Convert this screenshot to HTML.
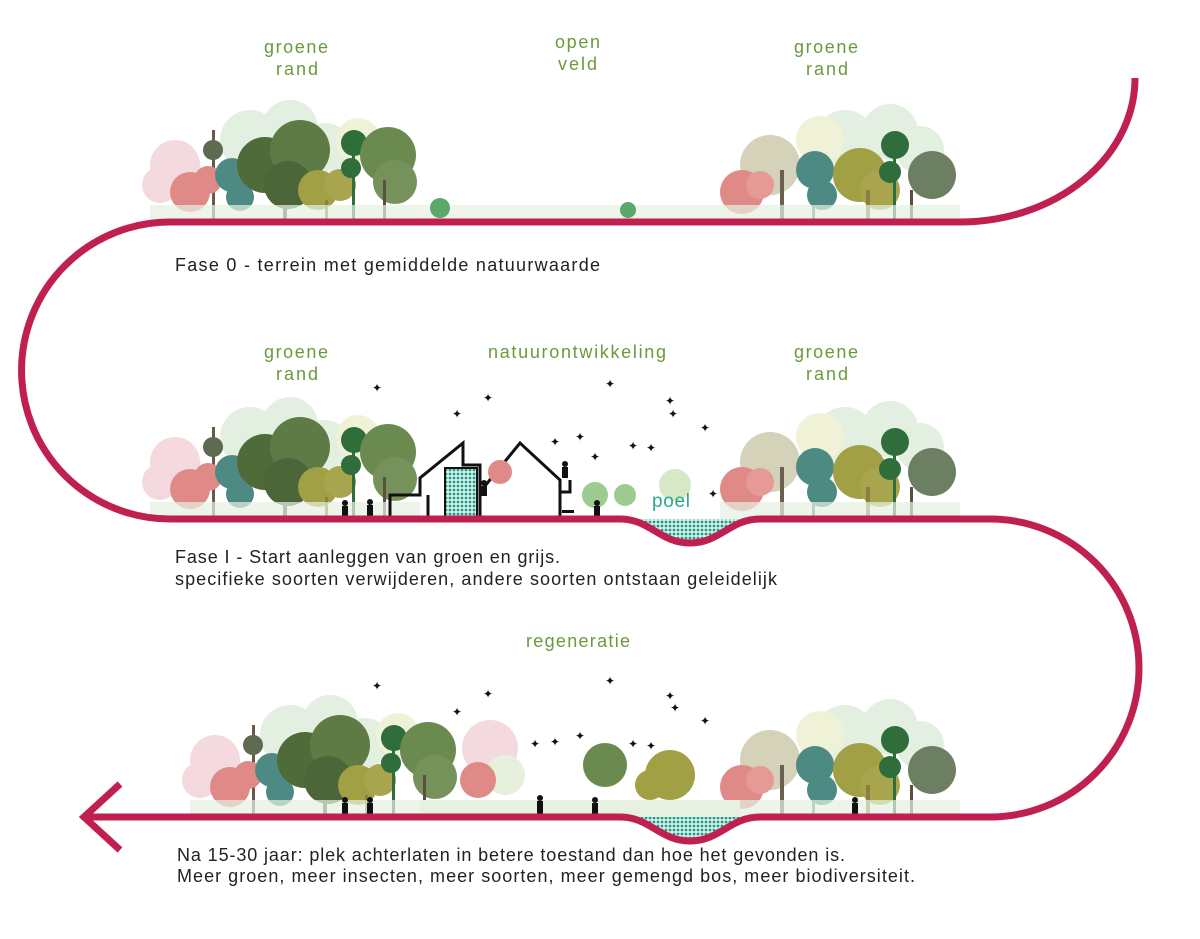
<!DOCTYPE html>
<html><head><meta charset="utf-8"><style>
html,body{margin:0;padding:0;background:#fff;}
svg{display:block;}
text{font-family:"Liberation Sans",sans-serif;}
.g{fill:#6a9a3e;font-size:18px;}
.b{fill:#222;font-size:18px;}
</style></head><body>
<svg width="1200" height="939" viewBox="0 0 1200 939" xmlns="http://www.w3.org/2000/svg">
<defs>
<g id="L">
 <circle cx="175" cy="165" r="25" fill="#f4d9de"/><circle cx="160" cy="185" r="18" fill="#f4d9de"/>
 <circle cx="250" cy="140" r="30" fill="#e3efe0"/><circle cx="290" cy="128" r="28" fill="#e3efe0"/><circle cx="325" cy="148" r="25" fill="#e3efe0"/>
 <circle cx="358" cy="140" r="22" fill="#f0f2d8"/>
 <rect x="212" y="130" width="3" height="92" fill="#6b5a4a"/><circle cx="213" cy="150" r="10" fill="#5e6b50"/>
 <circle cx="190" cy="192" r="20" fill="#e08a87"/><circle cx="208" cy="180" r="14" fill="#e08a87"/>
 <circle cx="232" cy="175" r="17" fill="#4e8a84"/><circle cx="240" cy="197" r="14" fill="#4e8a84"/>
 <rect x="283" y="170" width="4" height="52" fill="#5a5040"/>
 <circle cx="265" cy="165" r="28" fill="#4f6b3a"/><circle cx="300" cy="150" r="30" fill="#5e7a45"/><circle cx="288" cy="185" r="24" fill="#4c663a"/>
 <circle cx="318" cy="190" r="20" fill="#a1a045"/><circle cx="340" cy="185" r="16" fill="#a9a54e"/><rect x="325" y="200" width="3" height="22" fill="#8a8040"/>
 <rect x="352" y="150" width="3" height="72" fill="#2f6e3b"/>
 <circle cx="354" cy="143" r="13" fill="#2f6e3b"/><circle cx="351" cy="168" r="10" fill="#2f6e3b"/>
 <circle cx="388" cy="155" r="28" fill="#6b8a50"/><circle cx="395" cy="182" r="22" fill="#75925a"/><rect x="383" y="180" width="3" height="42" fill="#5a5040"/>
 <rect x="150" y="205" width="270" height="17" fill="#e6f1e2" opacity=".7"/>
</g>
<g id="R">
 <circle cx="845" cy="140" r="30" fill="#e3efe0"/><circle cx="890" cy="132" r="28" fill="#e3efe0"/><circle cx="920" cy="150" r="24" fill="#e3efe0"/>
 <circle cx="820" cy="140" r="24" fill="#f0f2d8"/>
 <circle cx="770" cy="165" r="30" fill="#c9c7a6" opacity=".8"/><rect x="780" y="170" width="4" height="52" fill="#6b6050"/>
 <circle cx="742" cy="192" r="22" fill="#e08a87"/><circle cx="760" cy="185" r="14" fill="#e59a95"/>
 <circle cx="815" cy="170" r="19" fill="#4e8a84"/><circle cx="822" cy="195" r="15" fill="#4e8a84"/><rect x="812" y="190" width="3" height="32" fill="#4e8a84"/>
 <circle cx="860" cy="175" r="27" fill="#a1a045"/><circle cx="880" cy="190" r="20" fill="#a9a54e"/><rect x="866" y="190" width="4" height="32" fill="#8a8040"/>
 <circle cx="932" cy="175" r="24" fill="#6d7f62"/><rect x="910" y="190" width="3" height="32" fill="#5a5040"/>
 <rect x="893" y="150" width="3" height="72" fill="#2f6e3b"/>
 <circle cx="895" cy="145" r="14" fill="#2f6e3b"/><circle cx="890" cy="172" r="11" fill="#2f6e3b"/>
 <rect x="720" y="205" width="240" height="17" fill="#e6f1e2" opacity=".7"/>
</g>
<pattern id="dots" width="4" height="4" patternUnits="userSpaceOnUse"><rect width="4" height="4" fill="#d9f0ea"/><circle cx="2" cy="2" r="1.4" fill="#1f9c86"/></pattern>
</defs>

<!-- row 1 -->
<use href="#L"/><use href="#R"/>
<rect x="420" y="205" width="300" height="17" fill="#eef5ea"/>
<circle cx="440" cy="208" r="10" fill="#5aa86a"/><circle cx="628" cy="210" r="8" fill="#5aa86a"/>
<!-- row 2 -->
<use href="#L" transform="translate(0,297)"/><use href="#R" transform="translate(0,297)"/>
<g fill="none" stroke="#111" stroke-width="3">
 <path d="M390 519 V495 H420 V478 L463 443 V465 H480 V519"/>
 <path d="M480 492 L520 443 L560 480 V492 H570 V480 M560 492 V519"/>
 <path d="M428 519 V495"/>
</g>
<rect x="445" y="468" width="32" height="51" fill="url(#dots)" stroke="#111" stroke-width="2"/>
<circle cx="500" cy="472" r="12" fill="#e08a87"/>
<circle cx="595" cy="495" r="13" fill="#9ccc90"/><circle cx="625" cy="495" r="11" fill="#9ccc90"/><circle cx="675" cy="485" r="16" fill="#d6e8c6"/>
<g fill="#111">
 <circle cx="345" cy="503" r="3"/><rect x="342" y="506" width="6" height="13"/>
 <circle cx="370" cy="502" r="3"/><rect x="367" y="505" width="6" height="14"/>
 <circle cx="484" cy="483" r="3"/><rect x="481" y="486" width="6" height="10"/>
 <circle cx="565" cy="464" r="3"/><rect x="562" y="467" width="6" height="11"/>
 <circle cx="597" cy="503" r="3"/><rect x="594" y="506" width="6" height="13"/>
 <rect x="562" y="510" width="12" height="3"/>
</g>
<text x="652" y="507" fill="#2aa88f" font-size="19" textLength="38">poel</text>
<g fill="#111" font-size="12">
 <text x="372" y="392">✦</text><text x="452" y="418">✦</text><text x="483" y="402">✦</text><text x="605" y="388">✦</text><text x="665" y="405">✦</text><text x="668" y="418">✦</text><text x="700" y="432">✦</text><text x="550" y="446">✦</text><text x="575" y="441">✦</text><text x="628" y="450">✦</text><text x="646" y="452">✦</text><text x="590" y="461">✦</text><text x="708" y="498">✦</text>
</g>
<!-- row 3 -->
<use href="#L" transform="translate(40,595)"/><use href="#R" transform="translate(0,595)"/>
<circle cx="490" cy="748" r="28" fill="#f4d9de"/><circle cx="505" cy="775" r="20" fill="#e7efdd"/><circle cx="478" cy="780" r="18" fill="#e08a87"/>
<circle cx="605" cy="765" r="22" fill="#6b8a50"/><circle cx="670" cy="775" r="25" fill="#a1a045"/><circle cx="650" cy="785" r="15" fill="#a1a045"/>
<rect x="420" y="800" width="320" height="17" fill="#e6f1e2"/>
<g fill="#111">
 <circle cx="345" cy="800" r="3"/><rect x="342" y="803" width="6" height="14"/>
 <circle cx="370" cy="800" r="3"/><rect x="367" y="803" width="6" height="14"/>
 <circle cx="540" cy="798" r="3"/><rect x="537" y="801" width="6" height="16"/>
 <circle cx="595" cy="800" r="3"/><rect x="592" y="803" width="6" height="14"/>
 <circle cx="855" cy="800" r="3"/><rect x="852" y="803" width="6" height="14"/>
</g>
<g fill="#111" font-size="12">
 <text x="372" y="690">✦</text><text x="452" y="716">✦</text><text x="483" y="698">✦</text><text x="605" y="685">✦</text><text x="665" y="700">✦</text><text x="670" y="712">✦</text><text x="700" y="725">✦</text><text x="550" y="746">✦</text><text x="575" y="740">✦</text><text x="530" y="748">✦</text><text x="628" y="748">✦</text><text x="646" y="750">✦</text>
</g>
<!-- ponds -->
<path d="M620 519 C650 519 660 543 690 543 C720 543 730 519 760 519 Z" fill="url(#dots)"/>
<path d="M620 817 C650 817 660 841 690 841 C720 841 730 817 760 817 Z" fill="url(#dots)"/>

<!-- main path -->
<path d="M1135 78 A175 144 0 0 1 960 222 H170 A148.5 148.5 0 0 0 170 519 H620 C650 519 660 543 690 543 C720 543 730 519 760 519 H990 A149 149 0 0 1 990 817 H760 C730 817 720 841 690 841 C660 841 650 817 620 817 H85" fill="none" stroke="#c0204f" stroke-width="7"/>
<path d="M120 784 L84 817 L120 850" fill="none" stroke="#c0204f" stroke-width="7" stroke-linejoin="miter"/>

<!-- labels -->
<text class="g" x="264" y="53" textLength="64">groene</text><text class="g" x="276" y="75" textLength="42">rand</text>
<text class="g" x="555" y="48" textLength="45">open</text><text class="g" x="558" y="70" textLength="39">veld</text>
<text class="g" x="794" y="53" textLength="64">groene</text><text class="g" x="806" y="75" textLength="42">rand</text>
<text class="b" x="175" y="271" textLength="425">Fase 0 - terrein met gemiddelde natuurwaarde</text>
<text class="g" x="264" y="358" textLength="64">groene</text><text class="g" x="276" y="380" textLength="42">rand</text>
<text class="g" x="488" y="358" textLength="178">natuurontwikkeling</text>
<text class="g" x="794" y="358" textLength="64">groene</text><text class="g" x="806" y="380" textLength="42">rand</text>
<text class="b" x="175" y="563" textLength="385">Fase I - Start aanleggen van groen en grijs.</text>
<text class="b" x="175" y="585" textLength="602">specifieke soorten verwijderen, andere soorten ontstaan geleidelijk</text>
<text class="g" x="526" y="647" textLength="104">regeneratie</text>
<text class="b" x="177" y="861" textLength="668">Na 15-30 jaar: plek achterlaten in betere toestand dan hoe het gevonden is.</text>
<text class="b" x="177" y="882" textLength="738">Meer groen, meer insecten, meer soorten, meer gemengd bos, meer biodiversiteit.</text>
</svg>
</body></html>
